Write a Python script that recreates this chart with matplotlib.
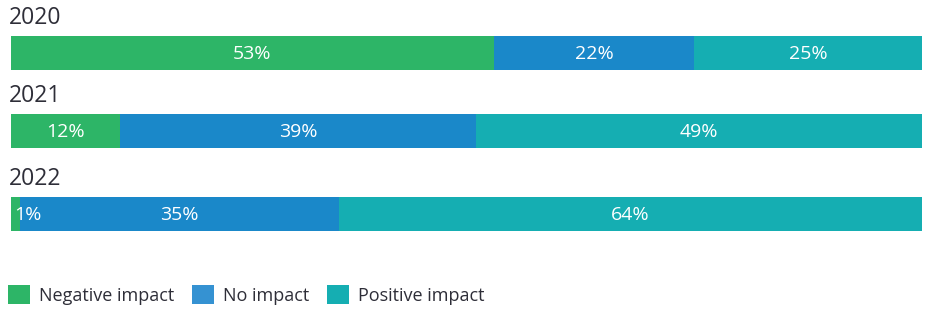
import matplotlib
matplotlib.use('Agg')
import matplotlib.pyplot as plt
from matplotlib.patches import Patch

plt.rcParams['font.family'] = ['Open Sans', 'DejaVu Sans']

years = ['2020', '2021', '2022']
categories = ['Negative impact', 'No impact', 'Positive impact']
negative = [53, 12, 1]
no_impact = [22, 39, 35]
positive = [25, 49, 64]

colors = ['#2db567', '#1a88c9', '#15aeb2']
legend_colors = ['#2db567', '#3592d2', '#15aeb2']

# layout (pixel rows, y axis inverted)
row_y = [53, 131, 214]
bar_h = 34

fig = plt.figure(figsize=(9.27, 3.10), dpi=100)
ax = fig.add_axes([11 / 927, 0, 911 / 927, 1])
ax.set_xlim(0, 100)
ax.set_ylim(310, 0)
ax.axis('off')

series = [negative, no_impact, positive]
for i, yr in enumerate(years):
    left = 0
    for j, vals in enumerate(series):
        v = vals[i]
        ax.barh(row_y[i], v, left=left, height=bar_h, color=colors[j], linewidth=0)
        if v < 3:
            ax.text(left + 0.4, row_y[i] + 1, f'{v}%', color='white', fontsize=14,
                    ha='left', va='center')
        else:
            ax.text(left + v / 2, row_y[i] + 1, f'{v}%', color='white', fontsize=14,
                    ha='center', va='center')
        left += v
    ax.text(-0.2, row_y[i] - 35, yr, color='#2e2e38', fontsize=16.5, ha='left', va='center')

handles = [Patch(facecolor=c, edgecolor='none') for c in legend_colors]
fig.legend(handles, categories, loc='lower left', bbox_to_anchor=(-0.009, -0.035),
           ncol=3, frameon=False, fontsize=13, handlelength=1.2, handleheight=1.2,
           handletextpad=0.5, columnspacing=1.0, labelcolor='#2e2e38')

fig.savefig('out.png', dpi=100)
